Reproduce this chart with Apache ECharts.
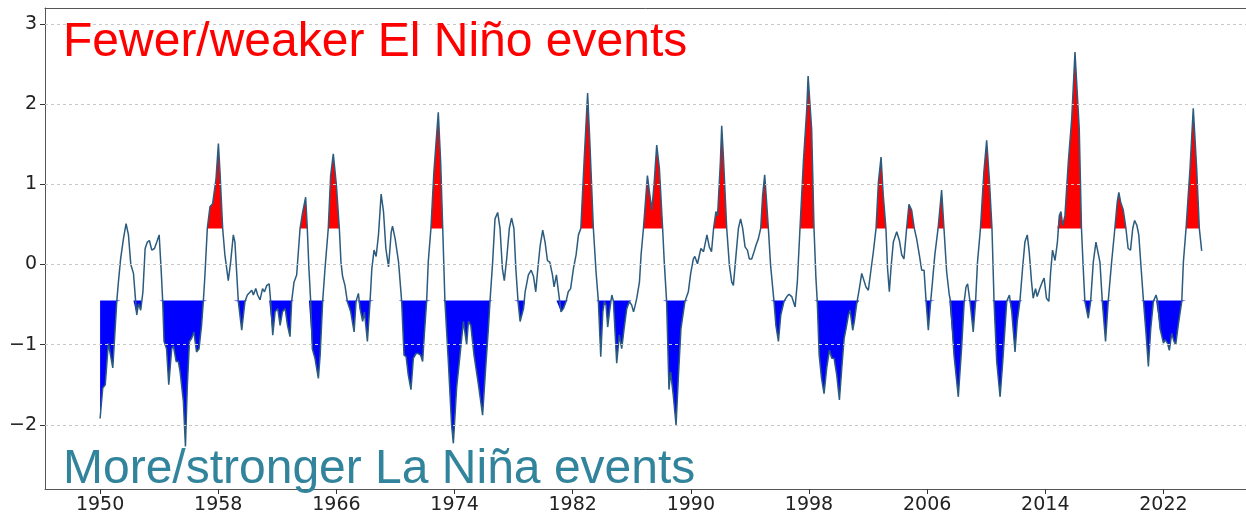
<!DOCTYPE html>
<html><head><meta charset="utf-8">
<script src="https://cdn.jsdelivr.net/npm/echarts@6/dist/echarts.min.js"></script>
<style>html,body{margin:0;padding:0;background:#fff}#c{width:1246px;height:515px}</style>
</head><body><div id="c"></div>
<script>
const years = [
1950.00,1950.18,1950.35,1950.56,1950.86,1951.13,1951.24,1951.39,1951.58,1951.76,1951.92,
1952.08,1952.26,1952.48,1952.60,1952.75,1952.90,1953.05,1953.20,1953.34,1953.50,1953.68,1953.84,
1954.00,1954.13,1954.24,1954.33,1954.50,1954.65,1954.85,1954.97,1955.15,1955.30,1955.42,1955.64,1955.78,1955.90,
1956.05,1956.20,1956.35,1956.53,1956.70,1956.87,1956.99,1957.10,1957.26,1957.44,1957.62,1957.85,
1958.01,1958.12,1958.30,1958.45,1958.68,1958.84,1959.02,1959.13,1959.36,1959.59,1959.81,1959.97,
1960.10,1960.27,1960.38,1960.54,1960.67,1960.83,1961.00,1961.13,1961.29,1961.45,1961.55,1961.69,1961.85,
1962.03,1962.19,1962.35,1962.53,1962.69,1962.86,1962.97,1963.13,1963.31,1963.54,1963.72,1963.92,
1964.03,1964.14,1964.26,1964.37,1964.55,1964.78,1964.90,1965.07,1965.23,1965.45,1965.61,1965.79,
1966.00,1966.20,1966.31,1966.42,1966.58,1966.74,1966.97,1967.20,1967.33,1967.49,1967.60,1967.78,1967.90,
1968.10,1968.28,1968.40,1968.55,1968.69,1968.85,1969.03,1969.19,1969.35,1969.53,1969.71,1969.80,1969.98,
1970.21,1970.42,1970.58,1970.72,1970.87,1971.05,1971.21,1971.39,1971.55,1971.70,1971.84,1971.95,
1972.11,1972.22,1972.40,1972.60,1972.90,1973.06,1973.20,1973.35,1973.58,1973.80,1973.92,
1974.14,1974.37,1974.60,1974.82,1974.94,1975.10,1975.32,1975.62,1975.90,1976.06,1976.29,1976.40,1976.58,1976.74,1976.92,
1977.08,1977.24,1977.37,1977.53,1977.71,1977.86,1978.02,1978.15,1978.30,1978.44,1978.67,1978.78,
1979.00,1979.19,1979.35,1979.50,1979.64,1979.80,1979.97,1980.13,1980.29,1980.45,1980.63,1980.74,1980.90,
1981.01,1981.21,1981.37,1981.55,1981.70,1981.86,1982.05,1982.23,1982.39,1982.55,1982.77,
1983.01,1983.17,1983.40,1983.58,1983.74,1983.90,1984.04,1984.15,1984.26,1984.37,1984.49,1984.65,1984.76,1984.98,
1985.16,1985.32,1985.48,1985.66,1985.84,1986.00,1986.12,1986.23,1986.34,1986.52,1986.63,1986.79,
1987.06,1987.20,1987.36,1987.52,1987.69,1987.87,1988.09,1988.20,1988.36,1988.52,1988.63,1988.81,
1989.00,1989.15,1989.33,1989.60,1989.83,1989.99,1990.17,1990.27,1990.45,1990.68,1990.86,
1991.09,1991.25,1991.40,1991.54,1991.70,1991.81,1992.00,1992.09,1992.20,1992.43,1992.61,1992.77,1992.88,
1993.06,1993.22,1993.37,1993.51,1993.67,1993.83,1993.96,1994.12,1994.28,1994.41,1994.57,1994.73,1994.86,
1995.00,1995.13,1995.25,1995.40,1995.63,1995.76,1995.93,1996.09,1996.31,1996.50,1996.65,1996.83,
1997.06,1997.21,1997.39,1997.62,1997.85,1997.94,1998.18,1998.34,1998.47,1998.56,1998.69,1998.85,
1999.02,1999.20,1999.38,1999.54,1999.70,1999.88,2000.06,2000.22,2000.38,2000.51,2000.67,2000.78,2000.96,
2001.07,2001.23,2001.41,2001.57,2001.68,2001.86,2002.02,2002.18,2002.36,2002.54,2002.70,2002.88,
2003.03,2003.21,2003.32,2003.44,2003.55,2003.71,2003.94,2004.12,2004.28,2004.43,2004.61,2004.77,2004.95,
2005.13,2005.29,2005.47,2005.63,2005.79,2005.93,2006.08,2006.24,2006.36,2006.52,2006.74,2006.98,
2007.14,2007.32,2007.50,2007.59,2007.82,2008.11,2008.33,2008.51,2008.63,2008.74,2008.90,
2009.12,2009.28,2009.41,2009.61,2009.84,2010.03,2010.21,2010.39,2010.53,2010.71,2010.94,
2011.12,2011.39,2011.57,2011.73,2011.95,2012.10,2012.28,2012.46,2012.62,2012.78,2012.91,
2013.07,2013.18,2013.34,2013.45,2013.63,2013.79,2013.92,2014.08,2014.24,2014.36,2014.49,2014.66,2014.82,2014.95,
2015.06,2015.18,2015.33,2015.56,2015.79,2016.01,2016.30,2016.45,2016.57,2016.68,2016.91,
2017.07,2017.25,2017.43,2017.54,2017.70,2017.86,2018.08,2018.26,2018.49,2018.71,2018.87,2018.98,
2019.10,2019.28,2019.46,2019.61,2019.77,2019.92,2020.05,2020.20,2020.33,2020.49,2020.65,2020.83,2020.98,
2021.14,2021.32,2021.50,2021.61,2021.77,2022.00,2022.11,2022.27,2022.40,2022.56,2022.72,2022.83,
2023.00,2023.24,2023.35,2023.53,2023.80,2024.02,2024.25,2024.43,2024.59
];
const oni = [
-1.92,-1.54,-1.50,-0.98,-1.29,-0.46,-0.22,0.07,0.32,0.51,0.37,
0.00,-0.11,-0.63,-0.49,-0.57,-0.34,0.20,0.28,0.30,0.18,0.20,0.28,
0.37,-0.05,-0.46,-0.96,-1.05,-1.50,-1.05,-1.02,-1.21,-1.21,-1.34,-1.71,-2.27,-1.54,
-0.96,-0.92,-0.84,-1.09,-1.05,-0.76,-0.46,-0.13,0.45,0.72,0.76,1.07,
1.51,1.15,0.45,0.12,-0.20,0.03,0.37,0.28,-0.46,-0.82,-0.46,-0.38,
-0.36,-0.32,-0.38,-0.30,-0.38,-0.44,-0.30,-0.34,-0.26,-0.24,-0.46,-0.88,-0.59,
-0.55,-0.76,-0.59,-0.55,-0.76,-0.90,-0.46,-0.22,-0.13,0.45,0.66,0.84,
0.45,-0.05,-0.46,-1.05,-1.17,-1.42,-1.13,-0.46,-0.05,0.45,1.11,1.38,
0.99,0.45,0.03,-0.15,-0.26,-0.46,-0.59,-0.84,-0.46,-0.36,-0.55,-0.71,-0.59,
-0.96,-0.46,-0.05,0.18,0.10,0.37,0.88,0.66,0.20,-0.03,0.40,0.48,0.32,
0.03,-0.46,-1.13,-1.15,-1.38,-1.56,-1.17,-1.11,-1.11,-1.13,-1.21,-0.88,
-0.46,0.03,0.45,1.15,1.90,1.28,0.45,-0.46,-1.21,-2.00,-2.23,
-1.54,-1.13,-0.71,-1.00,-0.71,-0.76,-1.13,-1.50,-1.88,-1.42,-0.80,-0.46,0.03,0.57,0.65,
0.45,-0.05,-0.20,0.07,0.45,0.58,0.45,-0.05,-0.46,-0.71,-0.55,-0.34,
-0.13,-0.07,-0.15,-0.34,-0.05,0.24,0.43,0.28,0.05,0.03,-0.13,-0.28,-0.13,
-0.30,-0.59,-0.55,-0.46,-0.34,-0.30,-0.05,0.12,0.37,0.45,1.28,
2.14,1.49,0.45,-0.09,-0.46,-1.15,-0.59,-0.46,-0.51,-0.78,-0.59,-0.38,-0.46,-1.23,
-0.88,-1.05,-0.80,-0.55,-0.46,-0.51,-0.59,-0.51,-0.42,-0.22,0.12,0.45,
1.11,0.90,0.68,1.03,1.49,1.20,0.45,0.03,-0.46,-1.56,-1.34,-1.63,
-2.00,-1.42,-0.80,-0.46,-0.34,-0.11,0.07,0.10,0.01,0.20,0.16,
0.37,0.22,0.16,0.45,0.66,0.61,1.28,1.73,1.36,0.45,-0.01,-0.22,-0.26,
0.12,0.45,0.57,0.45,0.22,0.18,0.07,0.07,0.16,0.24,0.32,0.45,0.86,
1.12,0.78,0.45,-0.01,-0.46,-0.76,-0.96,-0.63,-0.46,-0.40,-0.37,-0.40,
-0.53,-0.22,0.45,1.28,1.94,2.35,1.69,0.45,-0.17,-0.46,-1.13,-1.42,
-1.61,-1.29,-1.07,-1.17,-1.17,-1.38,-1.69,-1.29,-0.92,-0.80,-0.63,-0.57,-0.82,
-0.71,-0.49,-0.30,-0.11,-0.11,-0.28,-0.32,-0.09,0.16,0.45,1.03,1.34,
0.86,0.45,-0.05,-0.34,-0.05,0.28,0.41,0.30,0.12,0.07,0.45,0.75,0.68,
0.45,0.32,0.12,-0.07,-0.07,-0.46,-0.82,-0.46,-0.22,0.12,0.45,0.93,
0.45,-0.09,-0.38,-0.46,-1.13,-1.65,-1.05,-0.46,-0.28,-0.24,-0.46,
-0.84,-0.46,0.03,0.45,1.15,1.55,1.07,0.45,-0.46,-1.21,-1.65,
-1.21,-0.46,-0.38,-0.59,-1.09,-0.71,-0.46,-0.05,0.28,0.37,0.16,
-0.22,-0.42,-0.30,-0.40,-0.30,-0.22,-0.17,-0.42,-0.46,-0.10,0.18,0.05,0.28,0.61,
0.66,0.49,0.61,1.28,1.82,2.65,1.69,0.45,-0.05,-0.46,-0.67,
-0.46,0.03,0.28,0.30,0.03,-0.46,-0.96,-0.46,0.03,0.45,0.78,0.90,
0.78,0.68,0.45,0.20,0.18,0.45,0.55,0.49,0.37,-0.05,-0.46,-0.88,-1.27,
-0.80,-0.46,-0.38,-0.46,-0.80,-0.98,-0.94,-0.98,-1.07,-0.86,-0.96,-1.00,
-0.76,-0.46,0.03,0.45,1.20,1.95,1.20,0.45,0.17
];
const elNinoPeriods = [
[1957.0,1958.6],[1963.3,1964.2],[1965.3,1966.35],[1972.2,1973.3],[1982.3,1983.55],
[1986.6,1988.25],[1991.3,1992.55],[1994.5,1995.35],[1997.25,1998.45],[2002.3,2003.3],
[2004.45,2005.25],[2006.55,2007.25],[2009.45,2010.45],[2014.7,2016.55],[2018.55,2019.55],[2023.4,2024.6]
];
const laNinaPeriods = [
[1949.9,1951.2],[1952.3,1952.95],[1954.15,1957.05],[1959.2,1959.9],[1961.5,1963.05],
[1964.2,1965.15],[1966.65,1968.35],[1970.35,1972.15],[1973.3,1976.45],[1978.2,1978.75],
[1981.05,1981.65],[1983.65,1985.9],[1988.3,1989.7],[1995.5,1996.4],[1998.5,2001.35],
[2005.85,2006.3],[2007.55,2008.55],[2008.85,2009.3],[2010.45,2012.35],[2016.6,2017.15],
[2017.8,2018.35],[2020.55,2023.3]
];
const warmThreshold = 0.45;
const coldThreshold = -0.45;
const xTicks = [1950,1958,1966,1974,1982,1990,1998,2006,2014,2022];
const yTicks = [-2,-1,0,1,2,3];
const topText = 'Fewer/weaker El Niño events';
const bottomText = 'More/stronger La Niña events';

function inPeriods(x, periods){ return periods.some(p => x >= p[0] && x <= p[1]); }
function buildFill(th, periods, above){
  const out = [];
  for (let i = 0; i < years.length; i++){
    const x = years[i], v = oni[i];
    const act = inPeriods(x, periods);
    if (i > 0 && act && inPeriods(years[i-1], periods)){
      const xp = years[i-1], vp = oni[i-1];
      if ((vp - th) * (v - th) < 0){
        const t = (th - vp) / (v - vp);
        out.push([xp + t * (x - xp), th]);
      }
    }
    let c = th;
    if (act) c = above ? Math.max(v, th) : Math.min(v, th);
    out.push([x, c]);
  }
  return out;
}
const lineData = years.map((y, i) => [y, oni[i]]);

const chart = echarts.init(document.getElementById('c'), null, {renderer: 'canvas'});
const labelFont = {fontFamily: 'DejaVu Sans', fontSize: 19, color: '#222'};
const spine = {show: true, onZero: false, lineStyle: {color: '#555', width: 1}};
const xMin = 1946.27, xMax = 2027.59;
chart.setOption({
  animation: false,
  backgroundColor: '#fff',
  grid: {left: 45, right: 0, top: 8, bottom: 26, show: false},
  xAxis: [{
    type: 'value', min: xMin, max: xMax, position: 'bottom',
    axisLine: spine,
    axisTick: {show: true, length: 5, customValues: xTicks, lineStyle: {color: '#333'}},
    axisLabel: Object.assign({customValues: xTicks, margin: 7, formatter: v => String(v)}, labelFont),
    splitLine: {show: false}
  }, {
    type: 'value', min: xMin, max: xMax, position: 'top',
    axisLine: spine, axisTick: {show: false}, axisLabel: {show: false}, splitLine: {show: false}
  }],
  yAxis: {
    type: 'value', min: -2.8, max: 3.2,
    axisLine: spine,
    axisTick: {show: true, length: 5, customValues: yTicks, lineStyle: {color: '#333'}},
    axisLabel: Object.assign({customValues: yTicks, margin: 8, formatter: v => v < 0 ? '\u2212' + Math.abs(v) : String(v)}, labelFont),
    splitLine: {show: false}
  },
  series: [
    {
      type: 'line', data: [], z: 1, silent: true,
      markLine: {silent: true, symbol: 'none', label: {show: false},
        lineStyle: {type: [3, 3], color: '#c8c8c8', width: 1},
        data: yTicks.map(v => ({yAxis: v}))}
    },
    {
      type: 'line', data: buildFill(warmThreshold, elNinoPeriods, true), z: 2, silent: true,
      showSymbol: false, lineStyle: {width: 0, opacity: 0},
      areaStyle: {color: '#ff0000', opacity: 1, origin: warmThreshold}
    },
    {
      type: 'line', data: buildFill(coldThreshold, laNinaPeriods, false), z: 2, silent: true,
      showSymbol: false, lineStyle: {width: 0, opacity: 0},
      areaStyle: {color: '#0000ff', opacity: 1, origin: coldThreshold}
    },
    {
      type: 'line', data: lineData, z: 3, silent: true,
      showSymbol: false, lineStyle: {color: '#2b5b7e', width: 1.5}
    }
  ],
  graphic: [
    {type: 'text', left: 63, top: 19, z: 10, style: {text: topText, font: '48px "Liberation Sans"', fill: '#ff0000'}},
    {type: 'text', left: 63, top: 446, z: 10, style: {text: bottomText, font: '48px "Liberation Sans"', fill: '#31849b'}}
  ]
});
</script>
</body></html>
